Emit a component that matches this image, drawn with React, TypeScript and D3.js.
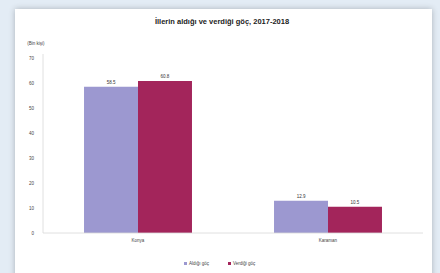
import React from "react";
import * as d3 from "d3";

const title = "İllerin aldığı ve verdiği göç, 2017-2018";
const yAxisTitle = "(Bin kişi)";
const categories = ["Konya", "Karaman"];
const seriesNames = ["Aldığı göç", "Verdiği göç"];
const aldigi = [58.5, 12.9];
const verdigi = [60.8, 10.5];
const yTicks = [0, 10, 20, 30, 40, 50, 60, 70];
const colors = ["#9c98d0", "#a3255b"];

export default function App() {
  const W = 440, H = 273;
  const left = 43, right = 423, top = 58, bottom = 233;
  const x = d3.scaleBand<string>().domain(categories).range([left, right]).paddingInner(0).paddingOuter(0);
  const inner = d3.scaleBand<string>().domain(seriesNames).range([0, x.bandwidth()]).paddingInner(0).paddingOuter(0.76);
  const y = d3.scaleLinear().domain([0, 70]).range([bottom, top]);
  const series = [aldigi, verdigi];
  const font = "Liberation Sans, Arial, sans-serif";
  return (
    <svg width={W} height={H} style={{ position: "absolute", left: 0, top: 0 }} fontFamily={font}>
      <defs>
        <filter id="sh" x="-5%" y="-5%" width="110%" height="110%">
          <feGaussianBlur in="SourceAlpha" stdDeviation="3" />
          <feOffset dx="0" dy="0" />
          <feComponentTransfer><feFuncA type="linear" slope="0.25" /></feComponentTransfer>
          <feMerge><feMergeNode /><feMergeNode in="SourceGraphic" /></feMerge>
        </filter>
      </defs>
      <rect x={0} y={0} width={W} height={H} fill="#e3ecf5" />
      <rect x={15} y={9} width={417} height={280} fill="#ffffff" filter="url(#sh)" />
      <text x={222} y={24} textAnchor="middle" fontSize={7.5} fontWeight="bold" fill="#222">{title}</text>
      <text x={36} y={45} textAnchor="middle" fontSize={4.5} fill="#444">{yAxisTitle}</text>
      {yTicks.map((t) => (
        <text key={t} x={34} y={y(t) + 1.6} textAnchor="end" fontSize={4.5} fill="#444">{t}</text>
      ))}
      <line x1={left} x2={left} y1={top - 4} y2={bottom} stroke="#d8d8d8" strokeWidth={0.8} />
      {categories.map((c, ci) =>
        seriesNames.map((s, si) => {
          const v = series[si][ci];
          const bx = (x(c) as number) + (inner(s) as number);
          return (
            <g key={c + s}>
              <rect x={bx} y={y(v)} width={inner.bandwidth()} height={bottom - y(v)} fill={colors[si]} />
              <text x={bx + inner.bandwidth() / 2} y={y(v) - 3} textAnchor="middle" fontSize={4.5} fill="#333">
                {v.toFixed(1)}
              </text>
            </g>
          );
        })
      )}
      <line x1={left} x2={right} y1={bottom} y2={bottom} stroke="#d8d8d8" strokeWidth={0.8} />
      {categories.map((c) => (
        <text key={c} x={(x(c) as number) + x.bandwidth() / 2} y={bottom + 9} textAnchor="middle" fontSize={4.5} fill="#444">{c}</text>
      ))}
      {seriesNames.map((s, i) => {
        const lx = 184 + i * 44;
        return (
          <g key={s}>
            <rect x={lx} y={262} width={3} height={3} fill={colors[i]} />
            <text x={lx + 5} y={265} fontSize={4.5} fill="#444">{s}</text>
          </g>
        );
      })}
    </svg>
  );
}
